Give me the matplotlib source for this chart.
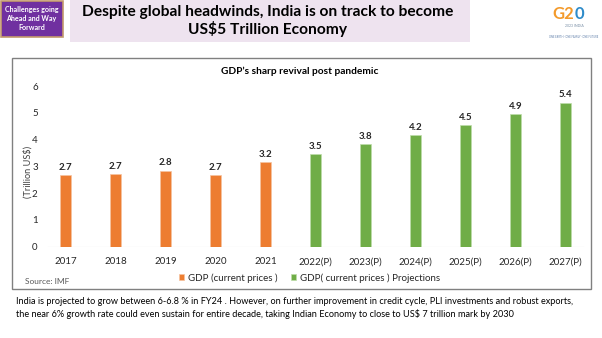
import matplotlib.pyplot as plt
import numpy as np
from matplotlib.patches import Rectangle

plt.rcParams["font.family"] = ["Lato", "DejaVu Sans"]

W, H = 602, 338

years = ["2017", "2018", "2019", "2020", "2021",
         "2022(P)", "2023(P)", "2024(P)", "2025(P)", "2026(P)", "2027(P)"]
gdp_actual = [2.67, 2.70, 2.84, 2.67, 3.17]
gdp_projected = [3.47, 3.82, 4.18, 4.54, 4.94, 5.38]
y_ticks = [0, 1, 2, 3, 4, 5, 6]

ORANGE = "#ED7D31"
GREEN = "#70AD47"


def fx(x):
    return x / W


def fy(y):
    return 1 - y / H


fig = plt.figure(figsize=(W / 100, H / 100), dpi=100)
fig.patch.set_facecolor("white")

# header: section tag, title banner, logo
fig.patches.append(Rectangle((fx(0.5), fy(36.5)), 62 / W, 36 / H, transform=fig.transFigure,
                             facecolor="#7030A0", edgecolor="#C49A6C", linewidth=1.2))
fig.text(fx(31.5), fy(18.5), "Challenges going\nAhead and Way\nForward", ha="center", va="center",
         color="white", fontsize=5.1, fontweight="bold", linespacing=1.4)

fig.patches.append(Rectangle((fx(70), fy(42)), 400 / W, 42 / H, transform=fig.transFigure,
                             facecolor="#EEE3EF", edgecolor="none"))
fig.text(fx(268), fy(21), "Despite global headwinds, India is on track to become\nUS$5 Trillion Economy",
         ha="center", va="center", fontsize=11.2, fontweight="bold", color="black", linespacing=1.15)

fig.text(fx(563), fy(14), "G2", ha="center", va="center", fontsize=12, fontweight="bold", color="#F39A2B")
fig.text(fx(579), fy(14), "0", ha="center", va="center", fontsize=12, fontweight="bold", color="#2E8BC9")
fig.text(fx(574), fy(26), "2023 INDIA", ha="center", va="center", fontsize=2.5, color="#7A8FA6")
fig.text(fx(574), fy(37), "ONE EARTH · ONE FAMILY · ONE FUTURE", ha="center", va="center",
         fontsize=1.8, color="#5A7AA6")

# chart frame
fig.patches.append(Rectangle((fx(12), fy(289)), 579 / W, 231 / H, transform=fig.transFigure,
                             facecolor="none", edgecolor="#808080", linewidth=1.0))
fig.text(fx(300), fy(71), "GDP\u2019s sharp revival post pandemic", ha="center", va="center",
         fontsize=7.3, fontweight="bold", color="black")

ax = fig.add_axes([fx(40.5), fy(246.7), 550.2 / W, (246.7 - 86) / H])
ax.set_facecolor("none")

x = np.arange(len(years))
bw = 0.22
b1 = ax.bar(x[:len(gdp_actual)], gdp_actual, width=bw, color=ORANGE,
            edgecolor="#F6C3A0", linewidth=0.5, label="GDP (current prices )")
b2 = ax.bar(x[len(gdp_actual):], gdp_projected, width=bw, color=GREEN,
            edgecolor="#BEDDAA", linewidth=0.5, label="GDP( current prices ) Projections")

for bars in (b1, b2):
    for rect in bars:
        v = rect.get_height()
        ax.text(rect.get_x() + rect.get_width() / 2, v + 0.12, f"{v:.1f}", ha="center", va="bottom",
                fontsize=7.0, fontweight="bold", color="#262626")

ax.set_xlim(-0.5, len(years) - 0.5)
ax.set_ylim(0, 6)
ax.set_yticks(y_ticks)
ax.set_xticks(x)
ax.set_xticklabels(years)
ax.tick_params(axis="both", length=0, labelsize=7.0, colors="#262626")
ax.tick_params(axis="x", pad=7.5)
ax.tick_params(axis="y", pad=2)
for s in ax.spines.values():
    s.set_visible(False)
ax.axhline(0, xmin=0.0136, xmax=0.986, color="#D9D9D9", linewidth=0.8, zorder=0)

fig.text(fx(28), fy(172), "(Trillion US$)", rotation=90, ha="center", va="center",
         fontsize=6.6, color="#404040")

fig.legend(handles=[b1, b2], loc="center left", bbox_to_anchor=(fx(174), fy(278)), ncol=2,
           frameon=False, fontsize=7.0, handlelength=0.55, handleheight=0.55, handletextpad=0.35,
           columnspacing=1.4, borderpad=0, labelcolor="#262626")

fig.text(fx(25), fy(282), "Source: IMF", ha="left", va="center", fontsize=6.0, color="#595959")

fig.text(fx(16), fy(308), "India is projected to grow between 6-6.8 % in FY24 . However, on further improvement in credit cycle, "
         "PLI investments and robust exports,\nthe near 6% growth rate could even sustain for entire decade, "
         "taking Indian Economy to close to US$ 7 trillion mark by 2030",
         ha="left", va="center", fontsize=6.55, color="black", linespacing=1.4)

fig.savefig("out.png", dpi=100)
